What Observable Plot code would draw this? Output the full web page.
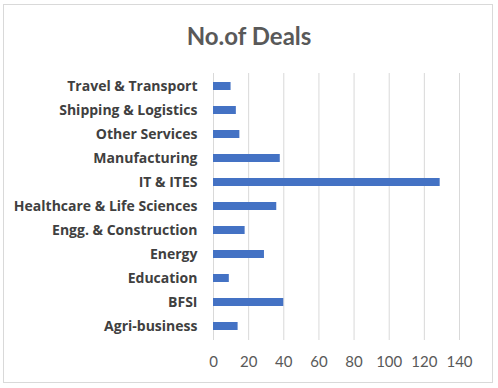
<!DOCTYPE html>
<html>
<head>
<meta charset="utf-8">
<script src="https://cdn.jsdelivr.net/npm/d3@7"></script>
<script src="https://cdn.jsdelivr.net/npm/@observablehq/plot@0.6"></script>
<style>
  html, body { margin: 0; padding: 0; background: #fff; }
  #wrap { position: relative; width: 498px; height: 388px; overflow: hidden; font-family: Lato, "Open Sans", sans-serif; }
  #frame { position: absolute; left: 3px; top: 4px; width: 490px; height: 379px; border: 1px solid #d9d9d9; box-sizing: border-box; pointer-events: none; }
  #title { position: absolute; left: 0; top: 21px; width: 498px; text-align: center; font-size: 24px; font-weight: bold; color: #595959; line-height: 30px; }
  #chart { position: absolute; left: 0; top: 0; }
</style>
</head>
<body>
<div id="wrap">
  <div id="chart"></div>
  <div id="title">No.of Deals</div>
  <div id="frame"></div>
</div>
<script>
const categories = ["Travel & Transport", "Shipping & Logistics", "Other Services", "Manufacturing", "IT & ITES", "Healthcare & Life Sciences", "Engg. & Construction", "Energy", "Education", "BFSI", "Agri-business"];
const deals = [10, 13, 15, 38, 129, 36, 18, 29, 9, 40, 14];
const xTicks = [0, 20, 40, 60, 80, 100, 120, 140];

const data = categories.map((c, i) => ({category: c, deals: deals[i]}));

const chart = Plot.plot({
  width: 498,
  height: 388,
  marginTop: 73,
  marginBottom: 48,
  marginLeft: 213,
  marginRight: 39,
  style: {fontFamily: "Lato, 'Open Sans', sans-serif", background: "transparent"},
  x: {domain: [0, 140], ticks: xTicks, label: null},
  y: {domain: categories, paddingInner: 0.65, paddingOuter: 0.33, label: null},
  marks: [
    Plot.gridX(xTicks, {stroke: "#d9d9d9", strokeOpacity: 1, strokeWidth: 1}),
    Plot.barX(data, {x: "deals", y: "category", fill: "#4472c4"}),
    Plot.axisX(xTicks, {tickSize: 0, tickPadding: 16, fontSize: 15, fill: "#595959", label: null}),
    Plot.axisY({tickSize: 0, tickPadding: 16, fontSize: 14, fontWeight: "bold", fontFamily: "'Open Sans', sans-serif", fill: "#404040", label: null})
  ]
});
document.getElementById("chart").appendChild(chart);
</script>
</body>
</html>
